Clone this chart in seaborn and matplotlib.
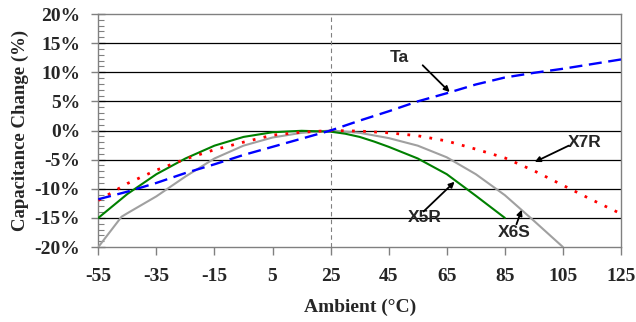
import matplotlib
matplotlib.use('Agg')
import matplotlib.pyplot as plt
from matplotlib.ticker import MultipleLocator, FuncFormatter
import seaborn as sns

# temperature points (deg C) and capacitance change (%)
temps = [-55, -45, -35, -25, -15, -5, 5, 15, 25, 35, 45, 55, 65, 75, 85, 95, 105, 115, 125]
ta = [-11.8, -10.5, -9.0, -7.3, -5.8, -4.2, -2.8, -1.4, 0.0, 1.7, 3.3, 5.0, 6.4, 7.9, 9.1, 9.9, 10.6, 11.4, 12.2]
x7r = [-12.0, -9.1, -6.8, -4.9, -3.3, -2.0, -0.8, -0.3, 0.0, -0.1, -0.4, -0.9, -1.8, -3.2, -4.7, -6.9, -9.4, -11.9, -14.3]

temps_x5r = [-55, -45, -35, -25, -15, -5, 5, 15, 25, 30, 35, 40, 45, 55, 65, 75, 85]
x5r = [-15.0, -10.9, -7.5, -4.8, -2.6, -1.1, -0.3, -0.05, -0.2, -0.55, -1.1, -1.9, -2.8, -4.8, -7.5, -11.2, -15.0]

temps_x6s = [-55, -47, -45, -35, -25, -15, -5, 5, 15, 25, 35, 45, 55, 65, 75, 85, 95, 105]
x6s = [-20.0, -14.8, -14.2, -11.3, -7.9, -4.8, -2.6, -1.2, -0.4, 0.0, -0.4, -1.3, -2.6, -4.6, -7.5, -11.1, -15.5, -20.0]

xticks = [-55, -35, -15, 5, 25, 45, 65, 85, 105, 125]

sns.set_style('white')
plt.rcParams['font.family'] = ['Liberation Serif', 'DejaVu Serif']
plt.rcParams['axes.unicode_minus'] = False

fig = plt.figure(figsize=(6.36, 3.22), dpi=100)
ax = fig.add_axes([0.1546, 0.2329, 0.8218, 0.7236])

# horizontal grid, black
for yv in range(-15, 20, 5):
    ax.axhline(yv, color='black', lw=0.9, zorder=1)
ax.axvline(25, color='#808080', lw=0.8, ls=(0, (4, 3)), zorder=1)

sns.lineplot(x=temps_x6s, y=x6s, ax=ax, color='#a0a0a0', lw=1.5, zorder=3)
sns.lineplot(x=temps_x5r, y=x5r, ax=ax, color='#008000', lw=1.5, zorder=4)
sns.lineplot(x=temps, y=x7r, ax=ax, color='red', lw=2, ls=(0, (1, 3)), zorder=5)
sns.lineplot(x=temps, y=ta, ax=ax, color='blue', lw=1.7, ls=(0, (5.5, 2.8)), zorder=6)

ax.set_xlim(-55, 125)
ax.set_ylim(-20, 20)
ax.set_xticks(xticks)
ax.yaxis.set_major_locator(MultipleLocator(5))
ax.yaxis.set_minor_locator(MultipleLocator(1))
ax.yaxis.set_major_formatter(FuncFormatter(lambda v, p: f'{int(v)}%'))

for s in ax.spines.values():
    s.set_color('#808080')
    s.set_linewidth(1)

ax.tick_params(axis='y', which='major', direction='inout', length=10, width=1, color='#808080',
               labelsize=14, pad=8, left=True)
ax.tick_params(axis='y', which='minor', direction='in', length=4, width=0.8, color='#808080', left=True)
ax.tick_params(axis='x', which='major', direction='out', length=6, width=1, color='#808080',
               labelsize=14, pad=9, bottom=True)
for lab in ax.get_xticklabels() + ax.get_yticklabels():
    lab.set_fontweight('bold')

ax.set_xlabel('Ambient (°C)', fontsize=14, fontweight='bold', labelpad=10)
ax.set_ylabel('Capacitance Change (%)', fontsize=13.5, fontweight='bold', labelpad=4)

arrow = dict(arrowstyle='-|>', color='black', lw=1.3, mutation_scale=8, shrinkA=0, shrinkB=0)
txt = dict(fontsize=12.5, fontweight='bold', family=['Liberation Sans', 'DejaVu Sans'],
           ha='center', va='center')
ax.text(48.8, 12.6, 'Ta', **txt)
ax.annotate('', xy=(66, 6.6), xytext=(56.7, 11.2), arrowprops=arrow)
ax.text(112.5, -2.0, 'X7R', **txt)
ax.annotate('', xy=(95.3, -5.4), xytext=(107, -2.6), arrowprops=arrow)
ax.text(57.4, -15.0, 'X5R', **txt)
ax.annotate('', xy=(67.7, -8.8), xytext=(57.0, -13.9), arrowprops=arrow)
ax.text(88.3, -17.5, 'X6S', **txt)
ax.annotate('', xy=(90.8, -13.6), xytext=(89.0, -16.1), arrowprops=arrow)

plt.savefig('out.png', dpi=100)
